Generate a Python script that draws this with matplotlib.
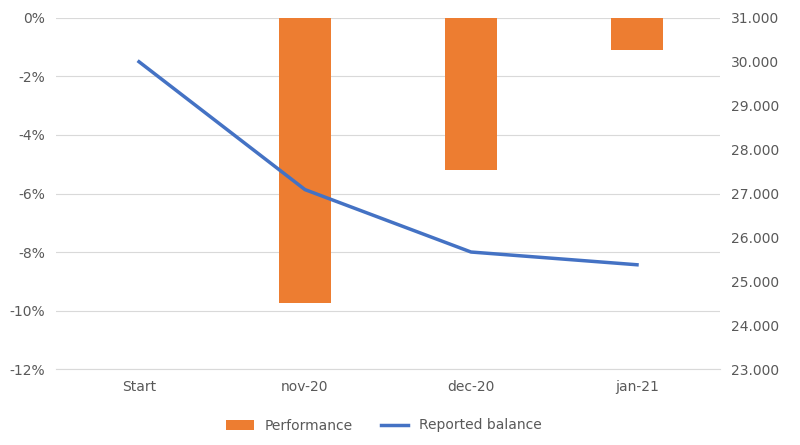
import matplotlib.pyplot as plt
import numpy as np
from matplotlib.ticker import FuncFormatter

categories = ['Start', 'nov-20', 'dec-20', 'jan-21']
performance = [0.0, -9.75, -5.2, -1.1]
balance = [30000, 27090, 25670, 25380]

fig = plt.figure(figsize=(8, 4.45), dpi=100)
ax = fig.add_axes([0.07, 0.17, 0.83, 0.79])
x = np.arange(len(categories))

ax.bar(x, performance, width=0.31, color='#ED7D31', label='Performance', zorder=2)
ax.set_ylim(-12, 0)
ax.set_yticks(np.arange(-12, 1, 2))
ax.yaxis.set_major_formatter(FuncFormatter(lambda v, p: f'{v:.0f}%'))
ax.grid(axis='y', color='#D9D9D9', linewidth=0.8, zorder=0)
ax.set_xlim(-0.5, len(categories) - 0.5)
ax.set_xticks(x)
ax.set_xticklabels(categories)
for s in ['top', 'left', 'right']:
    ax.spines[s].set_visible(False)
ax.spines['bottom'].set_color('#D9D9D9')
ax.tick_params(length=0, labelsize=10, colors='#595959', pad=8)

ax2 = ax.twinx()
ax2.plot(x, balance, color='#4472C4', linewidth=2.5, label='Reported balance', zorder=3)
ax2.set_ylim(23000, 31000)
ax2.set_yticks(np.arange(23000, 31001, 1000))
ax2.yaxis.set_major_formatter(FuncFormatter(lambda v, p: f'{v:,.0f}'.replace(',', '.')))
for s in ax2.spines.values():
    s.set_visible(False)
ax2.tick_params(length=0, labelsize=10, colors='#595959', pad=8)

h1, l1 = ax.get_legend_handles_labels()
h2, l2 = ax2.get_legend_handles_labels()
fig.legend(h1 + h2, l1 + l2, loc='lower center', ncol=2, frameon=False,
           fontsize=10, labelcolor='#595959', bbox_to_anchor=(0.48, 0.0))

fig.savefig('out.png', dpi=100)
